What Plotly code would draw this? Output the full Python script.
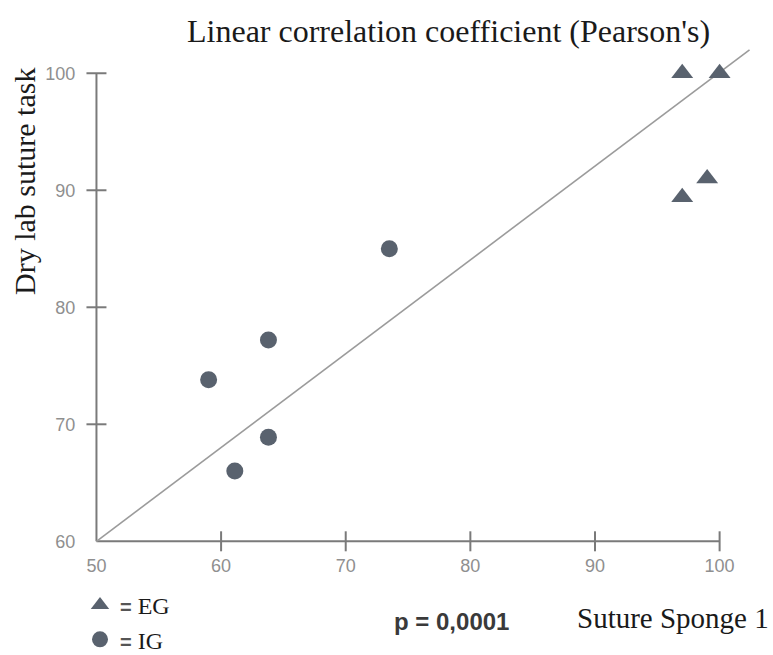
import plotly.graph_objects as go

# ---- data ----
eg_x = [97, 100, 99, 97]
eg_y = [100, 100, 91, 89.4]
ig_x = [73.5, 63.8, 59.0, 63.8, 61.1]
ig_y = [85.0, 77.2, 73.8, 68.9, 66.0]
fit_x = [50, 102.4]
fit_y = [60, 102.0]
x_ticks = [50, 60, 70, 80, 90, 100]
y_ticks = [60, 70, 80, 90, 100]

# ---- layout geometry ----
W, H = 773, 655
X0PX, Y0PX = 96, 541          # pixel position of the axes origin (50, 60)
XU, YU = 12.46, 11.7          # pixels per data unit
XR = [49, 103]
YR = [59, 102.5]
ML = round(X0PX - (x_ticks[0] - XR[0]) * XU)
MB = round(H - Y0PX - (y_ticks[0] - YR[0]) * YU)
PW = round((XR[1] - XR[0]) * XU)
PH = round((YR[1] - YR[0]) * YU)
MR = W - ML - PW
MT = H - MB - PH

def px(xp):
    return (xp - ML) / PW

def py(yp):
    return (H - MB - yp) / PH

MARK = "#59626e"
AXC = "#7a7a7a"
LBL = "#8f8f8f"
SERIF = "Liberation Serif, Times New Roman, serif"
SANS = "Liberation Sans, Arial, sans-serif"

fig = go.Figure()
fig.add_trace(go.Scatter(x=fit_x, y=fit_y, mode="lines",
                         line=dict(color="#9b9b9b", width=1.6),
                         showlegend=False, hoverinfo="skip"))
eq = "<span style='font-family:Liberation Sans;font-size:20px;font-weight:bold;fill:#555'>=</span> "
fig.add_trace(go.Scatter(x=eg_x, y=eg_y, mode="markers", name=eq + "EG",
                         marker=dict(symbol="triangle-up", size=19, color=MARK),
                         cliponaxis=False))
fig.add_trace(go.Scatter(x=ig_x, y=ig_y, mode="markers", name=eq + "IG",
                         marker=dict(symbol="circle", size=17, color=MARK),
                         cliponaxis=False))

# axis lines and crossing tick marks
shapes = [
    dict(type="line", xref="x", yref="y", x0=x_ticks[0], x1=x_ticks[-1],
         y0=y_ticks[0], y1=y_ticks[0], line=dict(color=AXC, width=2), layer="below"),
    dict(type="line", xref="x", yref="y", x0=x_ticks[0], x1=x_ticks[0],
         y0=y_ticks[0], y1=y_ticks[-1], line=dict(color=AXC, width=2), layer="below"),
]
for t in x_ticks[1:]:
    shapes.append(dict(type="line", xref="x", yref="y", x0=t, x1=t,
                       ysizemode="pixel", yanchor=y_ticks[0], y0=-10, y1=10,
                       line=dict(color=AXC, width=2), layer="below"))
for t in y_ticks[1:]:
    shapes.append(dict(type="line", xref="x", yref="y", y0=t, y1=t,
                       xsizemode="pixel", xanchor=x_ticks[0], x0=-10, x1=10,
                       line=dict(color=AXC, width=2), layer="below"))

common = dict(showgrid=False, zeroline=False, showline=False)
fig.update_layout(
    width=W, height=H,
    margin=dict(l=ML, r=MR, t=MT, b=MB, autoexpand=False),
    paper_bgcolor="white", plot_bgcolor="white",
    xaxis=dict(range=XR, tickvals=x_ticks, ticks="", ticklabelstandoff=0,
               tickfont=dict(family=SANS, size=18, color=LBL), **common),
    yaxis=dict(range=YR, tickvals=y_ticks, ticks="outside", ticklen=4,
               tickcolor="rgba(0,0,0,0)",
               tickfont=dict(family=SANS, size=18, color=LBL), **common),
    showlegend=True,
    legend=dict(x=px(80), y=py(583), xanchor="left", yanchor="top",
                font=dict(family=SERIF, size=24, color="#1a1a1a"),
                bgcolor="rgba(0,0,0,0)", tracegroupgap=0),
    shapes=shapes,
    annotations=[
        dict(text="Linear correlation coefficient (Pearson's)", xref="paper", yref="paper",
             x=px(448), y=py(31), xanchor="center", yanchor="middle", showarrow=False,
             font=dict(family=SERIF, size=32, color="#1a1a1a")),
        dict(text="Dry lab suture task", xref="paper", yref="paper",
             x=px(24), y=py(182), xanchor="center", yanchor="middle", showarrow=False,
             textangle=-90, font=dict(family=SERIF, size=30, color="#1a1a1a")),
        dict(text="Suture Sponge 1", xref="paper", yref="paper",
             x=px(673), y=py(618), xanchor="center", yanchor="middle", showarrow=False,
             font=dict(family=SERIF, size=29, color="#1a1a1a")),
        dict(text="<b>p = 0,0001</b>", xref="paper", yref="paper",
             x=px(452), y=py(621), xanchor="center", yanchor="middle", showarrow=False,
             font=dict(family=SANS, size=24, color="#3a3a3a")),
    ],
)

fig.write_html("out.html")
